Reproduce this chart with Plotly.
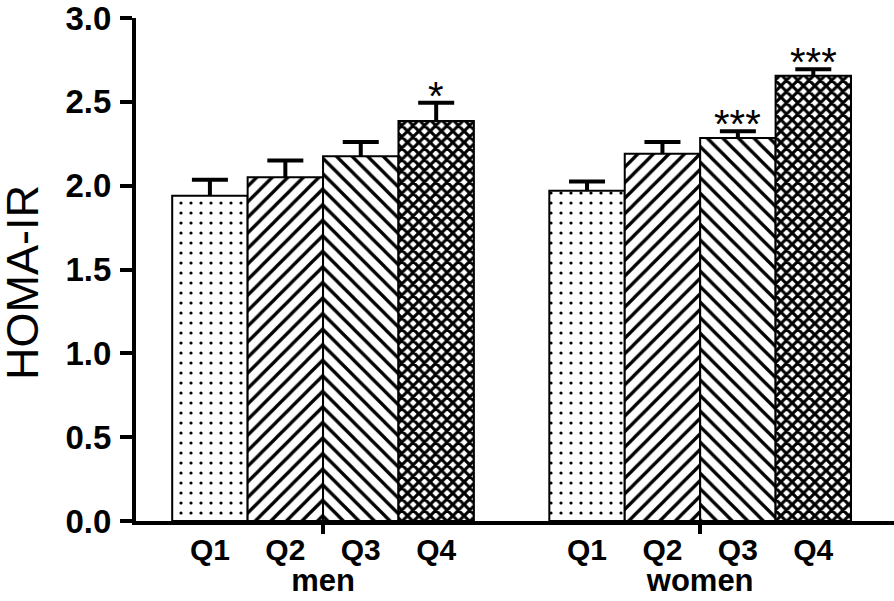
import plotly.graph_objects as go

# 数据：HOMA-IR 按四分位，男/女
groups = ["men", "women"]
quartiles = ["Q1", "Q2", "Q3", "Q4"]
men_vals = [1.94, 2.05, 2.175, 2.385]
men_err = [0.095, 0.10, 0.085, 0.11]
women_vals = [1.97, 2.19, 2.285, 2.655]
women_err = [0.055, 0.07, 0.04, 0.04]
men_sig = ["", "", "", "*"]
women_sig = ["", "", "***", "***"]

FONT = "Liberation Sans, Arial, sans-serif"
# Q1 点, Q2 /, Q3 \, Q4 棋盘
PATTERNS = [
    dict(shape=".", size=10, solidity=0.08),
    dict(shape="/", size=11, solidity=0.3),
    dict(shape="\\", size=11, solidity=0.3),
    dict(shape="x", size=8, solidity=0.62),
]

pos_men = list(range(4))
pos_women = [p + 5 for p in range(4)]

fig = go.Figure()
# 先画误差线（透明柱），再让花纹柱盖住下半截
for i, q in enumerate(quartiles):
    fig.add_trace(go.Bar(
        x=[pos_men[i], pos_women[i]], y=[men_vals[i], women_vals[i]], width=1,
        showlegend=False, hoverinfo="skip",
        marker=dict(color="rgba(0,0,0,0)", line=dict(width=0)),
        error_y=dict(type="data", array=[men_err[i], women_err[i]],
                     color="black", thickness=4, width=18),
    ))
for i, q in enumerate(quartiles):
    fig.add_trace(go.Bar(
        x=[pos_men[i], pos_women[i]], y=[men_vals[i], women_vals[i]], width=1,
        name=q, showlegend=False,
        marker=dict(color="white", line=dict(color="black", width=2),
                    pattern=dict(fgcolor="black", bgcolor="white", fillmode="replace", **PATTERNS[i])),
    ))

# 显著性星号
for xs, vals, errs, sig in [(pos_men, men_vals, men_err, men_sig),
                            (pos_women, women_vals, women_err, women_sig)]:
    for x, v, e, s in zip(xs, vals, errs, sig):
        if s:
            fig.add_annotation(x=x, y=v + e, text=s, showarrow=False, yanchor="bottom",
                               yshift=-17, font=dict(family=FONT, size=40, color="black"))

# 分组轴（只为画分隔刻度和 men/women）
fig.add_trace(go.Scatter(x=[1.5, 6.5], y=[0, 0], xaxis="x2", mode="markers",
                         marker=dict(opacity=0), hoverinfo="skip", showlegend=False))

fig.add_annotation(x=(22 - 136) / 758, xref="paper", xanchor="center",
                   y=0.475, yref="paper", yanchor="middle",
                   text="HOMA-IR", textangle=-90, showarrow=False,
                   font=dict(family=FONT, size=45, color="black"))

xr = [-0.98, 9.07]
fig.update_layout(
    width=894, height=601, plot_bgcolor="white", paper_bgcolor="white",
    margin=dict(l=136, r=0, t=16, b=80), barmode="overlay",
    xaxis=dict(range=xr, tickvals=pos_men + pos_women, ticktext=quartiles * 2,
               ticks="", showline=True, linecolor="black", linewidth=4,
               showgrid=False, zeroline=False, ticklabelstandoff=-1,
               tickfont=dict(family=FONT, size=30, color="black", weight="bold")),
    xaxis2=dict(range=xr, overlaying="x", side="bottom", anchor="y",
                tickvals=[1.5, 6.5], ticktext=groups, ticks="outside", ticklen=12,
                tickwidth=4, tickcolor="black", showline=False, showgrid=False,
                zeroline=False, ticklabelstandoff=20,
                tickfont=dict(family=FONT, size=31, color="black", weight="bold")),
    yaxis=dict(range=[0, 3.0], tickvals=[0, 0.5, 1.0, 1.5, 2.0, 2.5, 3.0],
               tickformat=".1f", ticks="outside", ticklen=12, tickwidth=4,
               tickcolor="black", showline=True, linecolor="black", linewidth=4,
               showgrid=False, zeroline=False, ticklabelstandoff=2,
               ticklabeloverflow="allow",
               tickfont=dict(family=FONT, size=33, color="black", weight="bold")),
)

# 去掉页面默认 8px 边距，让图贴齐窗口
post = "document.body.style.margin='0';document.body.style.overflow='hidden';"
fig.write_html("out.html", post_script=post, config={"displayModeBar": False})
